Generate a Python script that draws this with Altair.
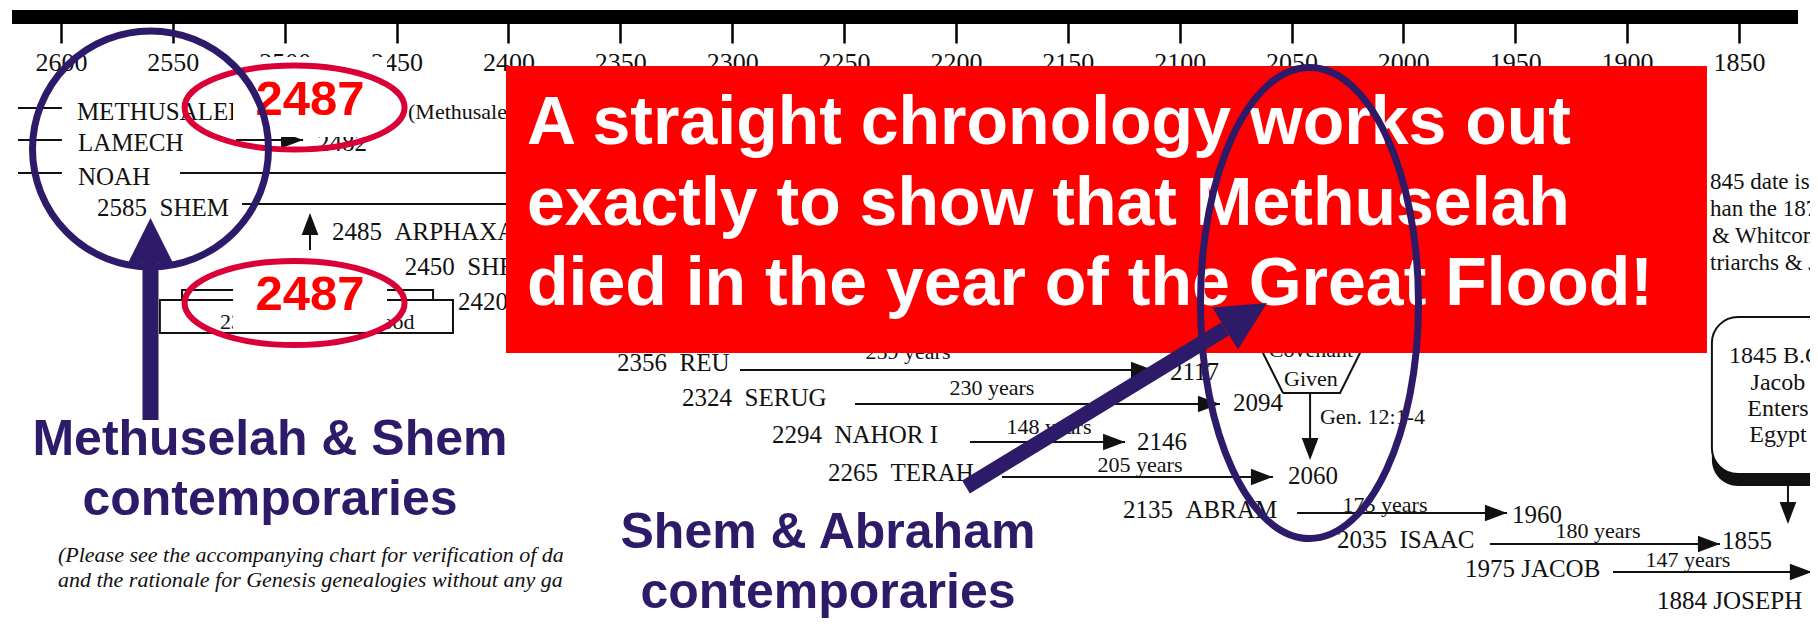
import altair as alt
import pandas as pd

# ---------------- data ----------------
tick_years = [2600, 2550, 2500, 2450, 2400, 2350, 2300, 2250, 2200, 2150, 2100, 2050, 2000, 1950, 1900, 1850]
bar_years = [2621.9, 1823.6]
bar_row = [17]

EN = "\u2002"
name_text = ["METHUSALEH", "LAMECH", "NOAH", "2585" + EN + "SHEM", "2485" + EN + "ARPHAXAD",
             "2450" + EN + "SHELAH", "2420", "2482",
             "2356" + EN + "REU", "2117", "2324" + EN + "SERUG", "2094", "2294" + EN + "NAHOR I", "2146",
             "2265" + EN + "TERAH", "2060", "2135" + EN + "ABRAM", "1960", "2035" + EN + "ISAAC", "1855",
             "1975 JACOB", "1884 JOSEPH"]
name_year = [2592.9, 2592.4, 2592.4, 2583.9, 2478.9, 2446.3, 2422.6, 2485.6,
             2351.5, 2104.3, 2322.4, 2076.2, 2282.2, 2119.1, 2257.2, 2051.6, 2125.3, 1951.5,
             2029.7, 1857.6, 1972.5, 1886.6]
name_row = [112, 143, 177, 208, 232, 267, 302, 143,
            363, 372, 398, 403, 435, 442, 473, 476, 510, 515, 540, 541, 569, 601]

note_text = ["(Methusaleh dies in the year of the Flood)", "2348 The Great Flood", "Gen. 12:1-4"]
note_year = [2444.9, 2528.9, 2037.3]
note_row = [112, 322, 417]

side_text = ["845 date is", "han the 187", "& Whitcom", "triarchs & J"]
side_year = [1862.95, 1862.95, 1862.1, 1862.95]
side_row = [182, 209, 236, 263]

span_text = ["259 years", "230 years", "148 years", "205 years", "175 years", "180 years", "147 years",
             "Covenant", "Given"]
span_year = [2221.4, 2183.9, 2158.4, 2117.7, 2008.2, 1913.0, 1872.8, 2041.3, 2041.3]
span_row = [352, 388, 427, 465, 505, 531, 560, 350, 379]

egypt_text = ["1845 B.C.", "Jacob", "Enters", "Egypt"]
egypt_text_year = [1832.6, 1832.6, 1832.6, 1832.6]
egypt_text_row = [356, 383, 409, 435]

# line segments: start year, end year, start row, end row
seg_x1 = [2619.2, 2619.2, 2619.2, 2546.8, 2519.1, 2521.8, 2488.7, 2296.5, 2245.1, 2193.7, 2179.4,
          2047.5, 1961.3, 1906.3, 2041.7, 1828.1]
seg_x2 = [2599.6, 2599.6, 2599.6, 2380.0, 2380.0, 2491.8, 2488.7, 2111.9, 2082.0, 2124.4, 2058.3,
          1953.7, 1858.5, 1817.4, 2041.7, 1828.1]
seg_y1 = [108, 140, 173, 173, 204, 140, 250, 370, 404, 442, 477, 513, 544, 572, 393, 486]
seg_y2 = [108, 140, 173, 173, 204, 140, 215, 370, 404, 442, 477, 513, 544, 572, 455, 518]

# arrow tips
head_year = [2491.8, 2488.7, 2111.9, 2082.0, 2124.4, 2058.3, 1953.7, 1858.5, 1817.4, 2041.7, 1828.1]
head_row = [140, 213, 370, 404, 442, 477, 513, 544, 572, 460, 524]
head_ang = [90, 0, 90, 90, 90, 90, 90, 90, 90, 180, 180]

# flood boxes
flood_x1 = [2545.9, 2555.8]
flood_x2 = [2433.7, 2424.8]
flood_y1 = [290, 300]
flood_y2 = [320, 333]

# covenant hexagon
hex_year = [2053.8, 2028.3, 2015.4, 2028.3, 2053.8, 2066.8, 2053.8]
hex_row = [393, 393, 335, 280, 280, 335, 393]

# Jacob enters Egypt box
egypt_x = [1862.1, 1800.0]
egypt_y = [317, 474]
egypt_shadow_y = [328, 486]

# annotations
white_x = [2523.1, 2454.3]
white_y1 = [57, 265]
white_y2 = [137, 330]
red_label = ["2487", "2487"]
red_label_year = [2488.7, 2488.7]
red_label_row = [115, 310]
red_ring_year = [2495.6, 2495.6]
red_ring_row = [107.5, 303]

circle_year = [2560.0]
circle_row = [149]
arrow1_year = [2560.0]
arrow1_rows = [420, 262]
arrow1_tip = [218]

box_x = [2401.1, 1864.3]
box_y = [66, 353]
box_lines = ["A straight chronology works out", "exactly to show that Methuselah",
             "died in the year of the Great Flood!"]
box_line_year = [2391.7, 2391.7, 2391.7]
box_line_row = [144, 225, 305]

ring2_year = [2041.96]
ring2_row = [303]
arrow2_years = [2195.5, 2079.7]
arrow2_rows = [487, 329]
arrow2_tip = [2060.96, 303]
arrow2_ang = [58.6]

navy_text = ["Methuselah & Shem", "contemporaries", "Shem & Abraham", "contemporaries"]
navy_year = [2506.6, 2506.6, 2257.2, 2257.2]
navy_row = [455, 515, 548, 608]

foot_text = ["(Please see the accompanying chart for verification of da",
             "and the rationale for Genesis genealogies without any ga"]
foot_year = [2601.35, 2601.35]
foot_row = [562, 587]

# ---------------- styles ----------------
INK = "#111111"
NAVY = "#2D1B69"
CRIMSON = "#DA0037"
SERIF = "Liberation Serif"
SANS = "Liberation Sans"


def ellipse_path(k):
    c = 0.5523
    return (f"M-1,0C-1,{-c*k:.4f} {-c:.4f},{-k:.4f} 0,{-k:.4f}"
            f"C{c:.4f},{-k:.4f} 1,{-c*k:.4f} 1,0"
            f"C1,{c*k:.4f} {c:.4f},{k:.4f} 0,{k:.4f}"
            f"C{-c:.4f},{k:.4f} -1,{c*k:.4f} -1,0Z")


HEAD_SMALL = "M0,0L-0.38,1L0.38,1Z"
HEAD_BIG = "M0,0L-0.5,1L0.5,1Z"

XS = alt.Scale(domain=[1818.25, 2623.69], reverse=True, nice=False, zero=False)
YS = alt.Scale(domain=[8, 620], reverse=True, nice=False, zero=False)
AX = alt.Axis(values=tick_years, format="d", orient="bottom", offset=-603, domain=False, grid=False,
              tickSize=26, tickWidth=2.5, tickColor="black", labelFont=SERIF, labelFontSize=26,
              labelColor=INK, labelPadding=6, labelFlush=False, labelOverlap=False, title=None)


def X(f):
    return alt.X(f, type="quantitative", scale=XS, axis=AX)


def Y(f):
    return alt.Y(f, type="quantitative", scale=YS, axis=None)


def texts(text, year, row, **kw):
    df = pd.DataFrame({"text": text, "year": year, "row": row})
    return alt.Chart(df).mark_text(**kw).encode(x=X("year"), y=Y("row"), text="text:N")


def rects(x1, x2, y1, y2, **kw):
    df = pd.DataFrame({"x1": x1, "x2": x2, "y1": y1, "y2": y2})
    return alt.Chart(df).mark_rect(**kw).encode(x=X("x1"), x2="x2:Q", y=Y("y1"), y2="y2:Q")


def segs(x1, x2, y1, y2, **kw):
    df = pd.DataFrame({"x1": x1, "x2": x2, "y1": y1, "y2": y2})
    return alt.Chart(df).mark_rule(**kw).encode(x=X("x1"), x2="x2:Q", y=Y("y1"), y2="y2:Q")


def points(year, row, **kw):
    df = pd.DataFrame({"year": year, "row": row})
    return alt.Chart(df).mark_point(opacity=1, **kw).encode(x=X("year"), y=Y("row"))


layers = []
# axis bar
layers.append(segs([bar_years[0]], [bar_years[1]], bar_row, bar_row, color="black", strokeWidth=14))

# flood boxes
layers.append(rects([flood_x1[0]], [flood_x2[0]], [flood_y1[0]], [flood_y2[0]], fill="white", stroke=INK, strokeWidth=2))
layers.append(rects([flood_x1[1]], [flood_x2[1]], [flood_y1[1]], [flood_y2[1]], fill="white", stroke=INK, strokeWidth=2))

# Egypt box with shadow
layers.append(rects([egypt_x[0]], [egypt_x[1]], [egypt_shadow_y[0]], [egypt_shadow_y[1]], fill=INK, cornerRadius=26))
layers.append(rects([egypt_x[0]], [egypt_x[1]], [egypt_y[0]], [egypt_y[1]], fill="white", stroke=INK, strokeWidth=2, cornerRadius=26))

# hexagon
hexdf = pd.DataFrame({"year": hex_year, "row": hex_row, "i": list(range(len(hex_year)))})
layers.append(alt.Chart(hexdf).mark_line(color=INK, strokeWidth=2).encode(
    x=X("year"), y=Y("row"), order=alt.Order("i:Q")))

# timeline segments and heads
layers.append(segs(seg_x1, seg_x2, seg_y1, seg_y2, color=INK, strokeWidth=2))
headdf = pd.DataFrame({"year": head_year, "row": head_row, "ang": head_ang})
layers.append(alt.Chart(headdf).mark_point(shape=HEAD_SMALL, size=1936, filled=True, color=INK,
                                           opacity=1, strokeWidth=0).encode(
    x=X("year"), y=Y("row"), angle=alt.Angle("ang:Q", scale=None)))

# texts of the scanned chart
layers.append(texts(name_text, name_year, name_row, align="left", baseline="middle", font=SERIF, fontSize=25, color=INK))
layers.append(texts(note_text, note_year, note_row, align="left", baseline="middle", font=SERIF, fontSize=22, color=INK))
layers.append(texts(side_text, side_year, side_row, align="left", baseline="middle", font=SERIF, fontSize=23, color=INK))
layers.append(texts(span_text, span_year, span_row, align="center", baseline="middle", font=SERIF, fontSize=22, color=INK))
layers.append(texts(egypt_text, egypt_text_year, egypt_text_row, align="center", baseline="middle", font=SERIF,
                    fontSize=24, color=INK))
layers.append(texts(foot_text, foot_year, foot_row, align="left", baseline="alphabetic", font=SERIF, fontSize=22,
                    fontStyle="italic", color=INK))

# white patches + red 2487
layers.append(rects([white_x[0]] * 2, [white_x[1]] * 2, white_y1, white_y2, fill="white"))
layers.append(texts(red_label, red_label_year, red_label_row, align="center", baseline="alphabetic", font=SANS,
                    fontSize=49, fontWeight="bold", color="#FF0000"))
layers.append(points(red_ring_year, red_ring_row, shape=ellipse_path(0.382), size=48400, filled=False,
                     color=CRIMSON, strokeWidth=6))

# blue circle + arrow 1
layers.append(points(circle_year, circle_row, shape="circle", size=55696, filled=False, color=NAVY, strokeWidth=7))
layers.append(segs(arrow1_year, arrow1_year, [arrow1_rows[0]], [arrow1_rows[1]], color=NAVY, strokeWidth=16))
layers.append(points(arrow1_year, arrow1_tip, shape=HEAD_BIG, size=8100, filled=True, color=NAVY, strokeWidth=0))

# red box with message
layers.append(rects([box_x[0]], [box_x[1]], [box_y[0]], [box_y[1]], fill="#FF0000"))
layers.append(texts(box_lines, box_line_year, box_line_row, align="left", baseline="alphabetic", font=SANS,
                    fontSize=68, fontWeight="bold", color="white"))

# blue ellipse 2 + arrow 2
layers.append(points(ring2_year, ring2_row, shape=ellipse_path(2.161), size=47524, filled=False,
                     color=NAVY, strokeWidth=7))
layers.append(segs([arrow2_years[0]], [arrow2_years[1]], [arrow2_rows[0]], [arrow2_rows[1]], color=NAVY, strokeWidth=15))
a2 = pd.DataFrame({"year": [arrow2_tip[0]], "row": [arrow2_tip[1]], "ang": arrow2_ang})
layers.append(alt.Chart(a2).mark_point(shape=HEAD_BIG, size=9604, filled=True, color=NAVY, opacity=1,
                                       strokeWidth=0).encode(
    x=X("year"), y=Y("row"), angle=alt.Angle("ang:Q", scale=None)))

# navy captions
layers.append(texts(navy_text, navy_year, navy_row, align="center", baseline="alphabetic", font=SANS,
                    fontSize=50, fontWeight="bold", color=NAVY))

chart = alt.layer(*layers).properties(
    width=1802, height=612, autosize=alt.AutoSizeParams(type="none"), padding=0, background="white"
).configure_view(stroke=None)

chart.save("out.html", embed_options={"renderer": "svg", "actions": False})
